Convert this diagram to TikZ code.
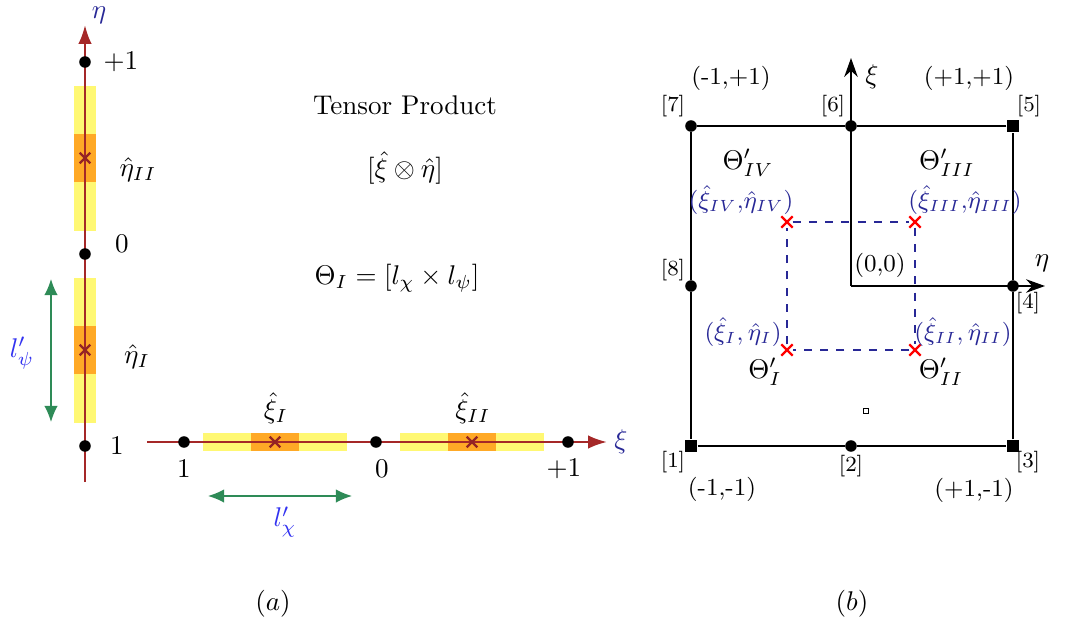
\documentclass[tikz,border=0pt]{standalone}
\usepackage{amsmath,amssymb,amsfonts}
\usepackage{xcolor}
\usetikzlibrary{arrows.meta, positioning, shapes.misc}

\definecolor{axisred}{RGB}{165,40,40}
\definecolor{labblue}{RGB}{40,40,150}
\definecolor{lenblue}{RGB}{50,50,240}
\definecolor{lengreen}{RGB}{46,139,87}
\definecolor{bandorange}{RGB}{255,150,20}

\begin{document}
\begin{tikzpicture}[
    x=0.013cm, y=-0.013cm,
    axis/.style={draw=axisred, line width=0.9pt, -{Latex[length=7pt, width=5pt]}},
    refaxis/.style={draw=black, line width=0.7pt, -{Stealth[length=7pt, width=5pt]}},
    edge/.style={draw=black, line width=0.7pt},
    dot/.style={circle, fill=black, inner sep=0pt, minimum size=0.15cm},
    sqdot/.style={rectangle, fill=black, inner sep=0pt, minimum size=0.16cm},
    ybandv/.style={rectangle, fill=yellow, fill opacity=0.55, inner sep=0pt, minimum width=22*0.013cm, minimum height=145*0.013cm},
    obandv/.style={rectangle, fill=bandorange, fill opacity=0.8, inner sep=0pt, minimum width=22*0.013cm, minimum height=48*0.013cm},
    ybandh/.style={rectangle, fill=yellow, fill opacity=0.55, inner sep=0pt, minimum height=18*0.013cm, minimum width=144*0.013cm},
    obandh/.style={rectangle, fill=bandorange, fill opacity=0.8, inner sep=0pt, minimum height=18*0.013cm, minimum width=48*0.013cm},
    gpt/.style={cross out, draw=axisred!90!black, line width=0.8pt, inner sep=0pt, minimum size=0.11cm},
    qpt/.style={cross out, draw=red, line width=0.8pt, inner sep=0pt, minimum size=0.12cm},
    len/.style={draw=lengreen, line width=0.5pt, {Latex[length=6pt, width=5pt]}-{Latex[length=6pt, width=5pt]}},
    grid/.style={draw=labblue, line width=0.6pt, dashed},
    idx/.style={font=\footnotesize},
    crn/.style={font=\small},
    qlab/.style={text=labblue, font=\small, inner sep=1pt}
]
\useasboundingbox (0,0) rectangle (1073,624);

% (a) one-dimensional pieces
\coordinate (etabot) at (85,482);
\coordinate (etatop) at (85,25);
\coordinate (xileft) at (147,442);
\coordinate (xiright) at (607,442);

\node (ybandII) [ybandv] at (85,158) {};
\node (obandII) [obandv] at (85,158) {};
\node (ybandI) [ybandv] at (85,350) {};
\node (obandI) [obandv] at (85,350) {};
\node (xbandI) [ybandh] at (275,442) {};
\node (xobandI) [obandh] at (275,442) {};
\node (xbandII) [ybandh] at (472,442) {};
\node (xobandII) [obandh] at (472,442) {};

\draw [axis] (etabot) -- (etatop);
\draw [axis] (xileft) -- (xiright);

\node (etap) [dot] at (85,62) {};
\node (etaz) [dot] at (85,254) {};
\node (etam) [dot] at (85,446) {};
\node (xim) [dot] at (184,442) {};
\node (xiz) [dot] at (376,442) {};
\node (xip) [dot] at (568,442) {};

\node (gII) [gpt] at (85,158) {};
\node (gI) [gpt] at (85,350) {};
\node (hI) [gpt] at (275,442) {};
\node (hII) [gpt] at (472,442) {};

\node [labblue] at (99,15) {$\eta$};
\node [labblue] at (621,442) {$\xi$};
\node at (121,62) {$+1$};
\node at (122,244) {$0$};
\node at (117,446) {$1$};
\node at (184,469) {$1$};
\node at (382,469) {$0$};
\node at (564,469) {$+1$};
\node at (138,170) {$\hat{\eta}_{II}$};
\node at (137,357) {$\hat{\eta}_{I}$};
\node at (276,408) {$\hat{\xi}_{I}$};
\node at (473,408) {$\hat{\xi}_{II}$};

\coordinate (lpsitop) at (51,279);
\coordinate (lpsibot) at (51,422);
\coordinate (lchil) at (208,496);
\coordinate (lchir) at (352,496);
\draw [len] (lpsitop) -- (lpsibot);
\draw [len] (lchil) -- (lchir);
\node [lenblue] at (22,353) {$l'_{\psi}$};
\node [lenblue] at (285,522) {$l'_{\chi}$};

\node (title) at (405,105) {Tensor Product};
\node (tprod) at (405,168) {$[\hat{\xi}\otimes\hat{\eta}]$};
\node (area) at (397,278) {$\Theta_I = [l_{\chi}\times l_{\psi}]$};

% (b) parent element with quadrature points
\node (n1) [sqdot] at (691,446) {};
\node (n2) [dot] at (851,446) {};
\node (n3) [sqdot] at (1013,446) {};
\node (n4) [dot] at (1013,286) {};
\node (n5) [sqdot] at (1013,126) {};
\node (n6) [dot] at (851,126) {};
\node (n7) [dot] at (691,126) {};
\node (n8) [dot] at (691,286) {};
\coordinate (orig) at (851,286);
\coordinate (xitip) at (851,58);
\coordinate (etatip) at (1045,286);

\draw [edge] (n1) -- (n2) -- (n3) -- (n4) -- (n5) -- (n6) -- (n7) -- (n8) -- (n1);
\draw [refaxis] (orig) -- (xitip);
\draw [refaxis] (orig) -- (etatip);

\node [idx] at (673,462) {[1]};
\node [idx] at (851,466) {[2]};
\node [idx] at (1028,462) {[3]};
\node [idx] at (1028,303) {[4]};
\node [idx] at (1029,106) {[5]};
\node [idx] at (833,106) {[6]};
\node [idx] at (673,106) {[7]};
\node [idx] at (673,270) {[8]};

\node [crn] at (731,78) {(-1,+1)};
\node [crn] at (969,78) {(+1,+1)};
\node [crn] at (722,489) {(-1,-1)};
\node [crn] at (974,490) {(+1,-1)};
\node [crn] at (880,265) {(0,0)};
\node at (872,77) {$\xi$};
\node at (1042,263) {$\eta$};

\node (qIV) [qpt] at (787,222) {};
\node (qIII) [qpt] at (915,222) {};
\node (qII) [qpt] at (915,350) {};
\node (qI) [qpt] at (787,350) {};
\draw [grid] (qIV) -- (qIII) -- (qII) -- (qI) -- (qIV);

\node [qlab] at (741,200) {$(\hat{\xi}_{IV}{,}\hat{\eta}_{IV})$};
\node [qlab] at (965,200) {$(\hat{\xi}_{III}{,}\hat{\eta}_{III})$};
\node [qlab] at (743,332) {$(\hat{\xi}_{I},\hat{\eta}_{I})$};
\node [qlab] at (963,332) {$(\hat{\xi}_{II},\hat{\eta}_{II})$};
\node at (748,163) {$\Theta'_{IV}$};
\node at (947,163) {$\Theta'_{III}$};
\node at (765,372) {$\Theta'_{I}$};
\node at (941,372) {$\Theta'_{II}$};

\node (cell) [rectangle, draw=black, line width=0.4pt, inner sep=0pt, minimum size=0.07cm] at (866,411) {};

\node at (273,604) {$(a)$};
\node at (852,604) {$(b)$};
\end{tikzpicture}
\end{document}
